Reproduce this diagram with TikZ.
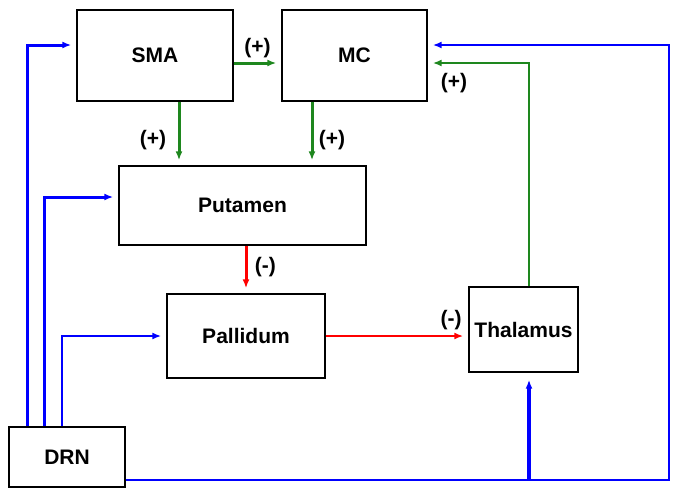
\documentclass[tikz,border=0pt]{standalone}
\usepackage{fontspec}
\setmainfont{Liberation Sans}
\usetikzlibrary{arrows.meta}
\definecolor{excgreen}{RGB}{30,135,30}
\definecolor{inhred}{RGB}{255,0,0}
\definecolor{drnblue}{RGB}{0,0,255}
\begin{document}
\begin{tikzpicture}[x=1pt,y=-1pt,>={Latex[length=9pt,width=7pt]},
        box/.style={draw,line width=1.4pt,font=\fontsize{21}{25}\selectfont\bfseries},
        sign/.style={text=black,font=\fontsize{21}{25}\selectfont\bfseries},
        link/.style={->,line width=3pt,shorten >=5pt},
        thinlink/.style={->,line width=2.2pt,shorten >=5pt}]
    \useasboundingbox (0,0) rectangle (682,496);
    \node [box,minimum width=156pt,minimum height=91pt] (SMA) at (155,55.5) {SMA};
    \node [box,minimum width=145pt,minimum height=91pt] (MC) at (354.5,55.5) {MC};
    \node [box,minimum width=247pt,minimum height=79pt] (Putamen) at (242.5,205.5) {Putamen};
    \node [box,minimum width=158pt,minimum height=84pt] (Pallidum) at (246,336) {Pallidum};
    \node [box,minimum width=109pt,minimum height=85pt,inner xsep=0pt] (Thalamus) at (523.5,329.5) {Thalamus};
    \node [box,minimum width=116pt,minimum height=60pt] (DRN) at (67,457) {DRN};
    \coordinate (rightcorner) at (669,480);
    % excitatory
    \draw [link,excgreen] ([yshift=-7.5pt]SMA.east) -- ([yshift=-7.5pt]MC.west)
        node [midway,above,sign] (smamc) {(+)};
    \draw [link,excgreen] ([xshift=24pt]SMA.south) -- ([xshift=24pt]SMA.south |- Putamen.north)
        node [pos=0.6,left=8pt,sign] (smaput) {(+)};
    \draw [link,excgreen] ([xshift=-42.5pt]MC.south) -- ([xshift=-42.5pt]MC.south |- Putamen.north)
        node [pos=0.6,right=2pt,sign] (mcput) {(+)};
    \draw [thinlink,excgreen] ([xshift=5.5pt]Thalamus.north) |- ([yshift=-7.5pt]MC.east)
        node [pos=0.87,below=6pt,sign] (thalmc) {(+)};
    % inhibitory
    \draw [link,inhred] (Pallidum.north |- Putamen.south) -- (Pallidum.north)
        node [pos=0.45,right=4pt,sign] (putpal) {(-)};
    \draw [thinlink,inhred] (Pallidum.east) -- (Pallidum.east -| Thalamus.west)
        node [pos=0.88,above=2pt,sign] (palthal) {(-)};
    % DRN projections
    \draw [link,drnblue] ([xshift=19pt]DRN.north west) |- ([yshift=10.5pt]SMA.west);
    \draw [link,drnblue] ([xshift=36pt]DRN.north west) |- ([yshift=8.5pt]Putamen.west);
    \draw [thinlink,drnblue] ([xshift=54pt]DRN.north west) |- (Pallidum.west);
    \draw [link,drnblue,line width=2.6pt] ([yshift=-23pt]DRN.east) -- (rightcorner) |- ([yshift=10.5pt]MC.east);
    \draw [link,drnblue,line width=3.6pt,shorten >=7pt] ([xshift=5.5pt]Thalamus.south |- rightcorner) -- ([xshift=5.5pt]Thalamus.south);
\end{tikzpicture}
\end{document}
